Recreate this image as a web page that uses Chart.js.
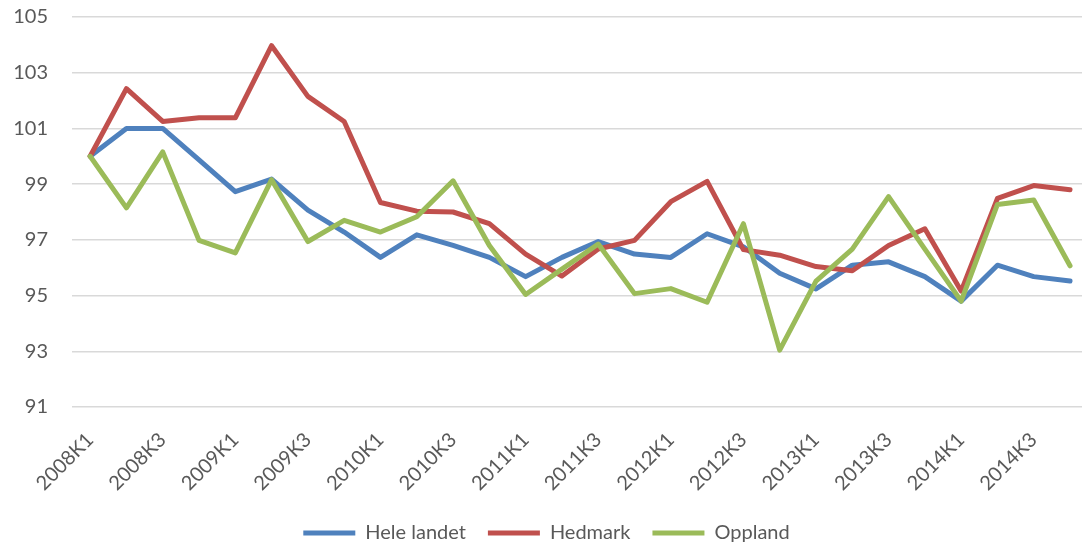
<!DOCTYPE html>
<html>
<head>
<meta charset="utf-8">
<script src="https://cdn.jsdelivr.net/npm/chart.js@4"></script>
<style>
  html, body { margin: 0; padding: 0; overflow: hidden; background: #fff; }
  #wrap { width: 1100px; height: 543px; }
</style>
</head>
<body>
<div id="wrap"><canvas id="chart"></canvas></div>
<script>
const quarters = [
  '2008K1', '2008K2', '2008K3', '2008K4',
  '2009K1', '2009K2', '2009K3', '2009K4',
  '2010K1', '2010K2', '2010K3', '2010K4',
  '2011K1', '2011K2', '2011K3', '2011K4',
  '2012K1', '2012K2', '2012K3', '2012K4',
  '2013K1', '2013K2', '2013K3', '2013K4',
  '2014K1', '2014K2', '2014K3', '2014K4',
]
const heleLandet = [100, 101.0, 101.0, 99.87, 98.73, 99.18, 98.07, 97.28, 96.37, 97.18, 96.8, 96.37, 95.68, 96.37, 96.94, 96.49, 96.37, 97.22, 96.75, 95.8, 95.24, 96.09, 96.21, 95.68, 94.8, 96.09, 95.68, 95.52]
const hedmark = [100, 102.43, 101.25, 101.38, 101.38, 103.97, 102.15, 101.25, 98.34, 98.03, 98.0, 97.58, 96.49, 95.7, 96.67, 96.98, 98.37, 99.1, 96.65, 96.45, 96.04, 95.89, 96.8, 97.4, 95.16, 98.49, 98.95, 98.8]
const oppland = [100, 98.15, 100.16, 96.98, 96.53, 99.16, 96.94, 97.7, 97.28, 97.83, 99.12, 96.8, 95.04, 95.95, 96.85, 95.07, 95.25, 94.76, 97.58, 93.04, 95.52, 96.67, 98.55, 96.67, 94.8, 98.27, 98.43, 96.07]

const font = { family: 'Lato', size: 20 }
const textColor = '#595959'

function line(label, data, color, order) {
  return {
    label,
    data,
    order,
    borderColor: color,
    backgroundColor: color,
    borderWidth: 5,
    borderJoinStyle: 'round',
    borderCapStyle: 'round',
    pointRadius: 0,
    tension: 0,
  }
}

new Chart(document.getElementById('chart'), {
  type: 'line',
  data: {
    labels: quarters,
    datasets: [
      line('Hele landet', heleLandet, '#4f81bd', 3),
      line('Hedmark', hedmark, '#c0504d', 2),
      line('Oppland', oppland, '#9bbb59', 1),
    ],
  },
  options: {
    responsive: true,
    maintainAspectRatio: false,
    animation: false,
    layout: {
      padding: { left: -7, top: 17, right: 0, bottom: -10 },
    },
    scales: {
      x: {
        offset: true,
        afterFit: (scale) => { scale.height = 94 },
        grid: { display: false },
        border: { display: false },
        ticks: {
          autoSkip: false,
          minRotation: 45,
          maxRotation: 45,
          padding: 13,
          color: textColor,
          font,
          callback: function (value, index) {
            return index % 2 === 0 ? this.getLabelForValue(value) : ''
          },
        },
      },
      y: {
        min: 91,
        max: 105,
        afterFit: (scale) => { scale.width = 79 },
        grid: { color: '#d9d9d9', lineWidth: 1.5, tickLength: 24, tickColor: 'rgba(0,0,0,0)' },
        border: { display: false },
        ticks: {
          stepSize: 2,
          padding: 0,
          color: textColor,
          font,
        },
      },
    },
    plugins: {
      tooltip: { enabled: false },
      legend: {
        position: 'bottom',
        labels: {
          boxWidth: 52,
          boxHeight: 5,
          padding: 22,
          color: textColor,
          font,
          generateLabels: (chart) => chart.data.datasets.map((ds, i) => ({
            text: ds.label,
            fillStyle: ds.borderColor,
            strokeStyle: ds.borderColor,
            lineWidth: 0,
            fontColor: textColor,
            datasetIndex: i,
          })),
        },
      },
    },
  },
})
</script>
</body>
</html>
